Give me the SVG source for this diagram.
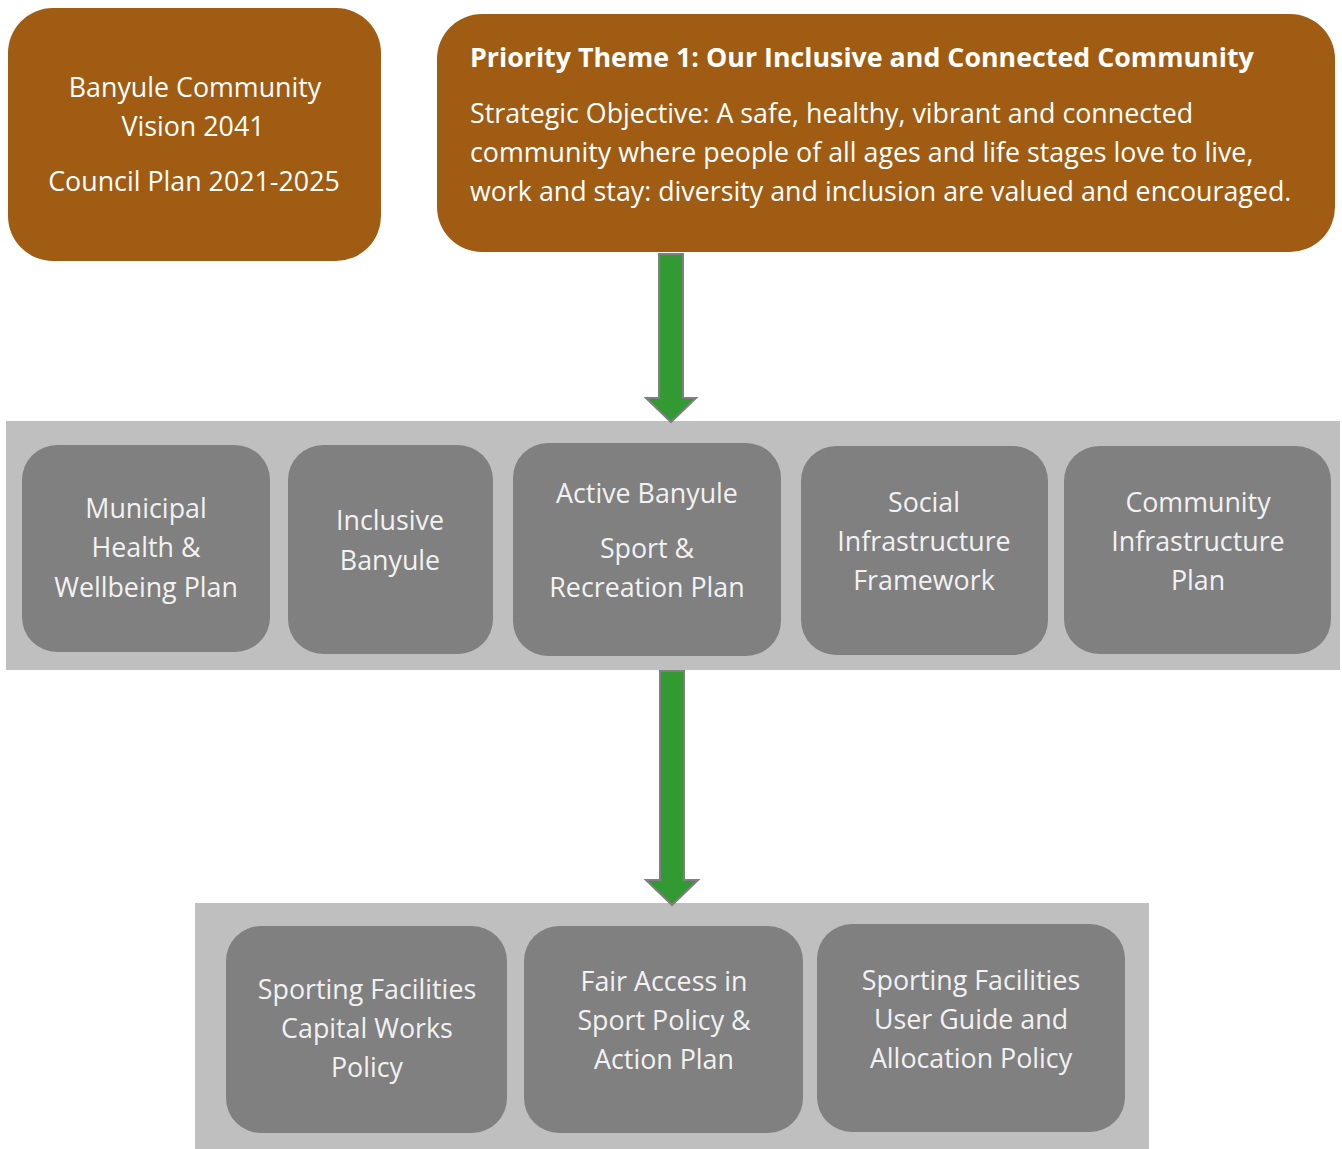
<svg xmlns="http://www.w3.org/2000/svg" width="1342" height="1149" viewBox="0 0 1342 1149">
<style>
.brown{fill:#A05C12;}
.band{fill:#BFBFBF;}
.node{fill:#808080;}
.t{font-family:"Open Sans","Liberation Sans",sans-serif;font-size:26.8px;fill:#ffffff;text-anchor:middle;}
.tl{font-family:"Open Sans","Liberation Sans",sans-serif;font-size:26.8px;fill:#ffffff;}
.b{font-weight:bold;}
.g{fill:#F2F2F2;}
.arrow{fill:#339933;stroke:#7F7F7F;stroke-width:2;}
</style>
<rect width="1342" height="1149" fill="#ffffff"/>
<g id="vision">
<rect class="brown" x="8" y="8" width="373" height="253" rx="45"/>
<text class="t" x="195" y="97">Banyule Community</text>
<text class="t" x="193" y="136">Vision 2041</text>
<text class="t" x="194" y="191">Council Plan 2021-2025</text>
</g>
<g id="priority">
<rect class="brown" x="437" y="14" width="898" height="238" rx="45"/>
<text class="tl b" x="470" y="67">Priority Theme 1: Our Inclusive and Connected Community</text>
<text class="tl" x="470" y="123">Strategic Objective: A safe, healthy, vibrant and connected</text>
<text class="tl" x="470" y="162">community where people of all ages and life stages love to live,</text>
<text class="tl" x="470" y="201">work and stay: diversity and inclusion are valued and encouraged.</text>
</g>
<g id="band1"><rect class="band" x="6" y="421" width="1334" height="249"/></g>
<g id="band2"><rect class="band" x="195" y="903" width="954" height="246"/></g>
<g id="connectors">
<polygon class="arrow" points="659,254 683,254 683,398 696,398 671,422 646,398 659,398"/>
<polygon class="arrow" points="660,671 684,671 684,880 698,880 672,905 646,880 660,880"/>
</g>
<g id="n1">
<rect class="node" x="22" y="445" width="248" height="207" rx="35"/>
<text class="t g" x="146" y="518">Municipal</text>
<text class="t g" x="146" y="557">Health &amp;</text>
<text class="t g" x="146" y="597">Wellbeing Plan</text>
</g>
<g id="n2">
<rect class="node" x="288" y="445" width="205" height="209" rx="35"/>
<text class="t g" x="390" y="530">Inclusive</text>
<text class="t g" x="390" y="570">Banyule</text>
</g>
<g id="n3">
<rect class="node" x="513" y="443" width="268" height="213" rx="35"/>
<text class="t g" x="647" y="503">Active Banyule</text>
<text class="t g" x="647" y="558">Sport &amp;</text>
<text class="t g" x="647" y="597">Recreation Plan</text>
</g>
<g id="n4">
<rect class="node" x="801" y="446" width="247" height="209" rx="35"/>
<text class="t g" x="924" y="512">Social</text>
<text class="t g" x="924" y="551">Infrastructure</text>
<text class="t g" x="924" y="590">Framework</text>
</g>
<g id="n5">
<rect class="node" x="1064" y="446" width="267" height="208" rx="35"/>
<text class="t g" x="1198" y="512">Community</text>
<text class="t g" x="1198" y="551">Infrastructure</text>
<text class="t g" x="1198" y="590">Plan</text>
</g>
<g id="n6">
<rect class="node" x="226" y="926" width="281" height="207" rx="35"/>
<text class="t g" x="367" y="999">Sporting Facilities</text>
<text class="t g" x="367" y="1038">Capital Works</text>
<text class="t g" x="367" y="1077">Policy</text>
</g>
<g id="n7">
<rect class="node" x="524" y="926" width="279" height="207" rx="35"/>
<text class="t g" x="664" y="991">Fair Access in</text>
<text class="t g" x="664" y="1030">Sport Policy &amp;</text>
<text class="t g" x="664" y="1069">Action Plan</text>
</g>
<g id="n8">
<rect class="node" x="817" y="924" width="308" height="208" rx="35"/>
<text class="t g" x="971" y="990">Sporting Facilities</text>
<text class="t g" x="971" y="1029">User Guide and</text>
<text class="t g" x="971" y="1068">Allocation Policy</text>
</g>
</svg>
